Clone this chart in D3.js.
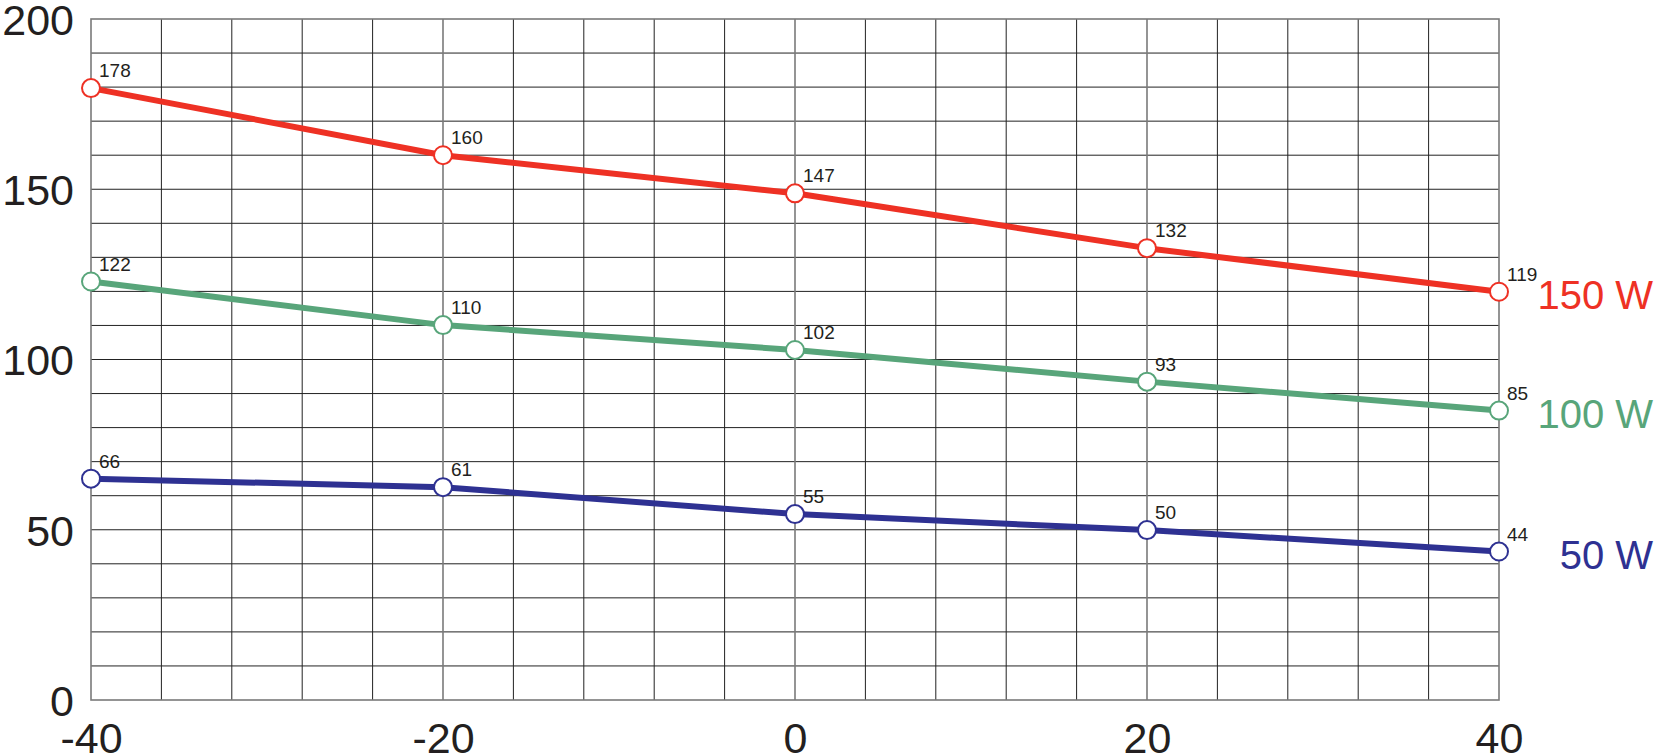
<!DOCTYPE html>
<html>
<head>
<meta charset="utf-8">
<script src="https://cdn.jsdelivr.net/npm/d3@7"></script>
<style>
  html, body { margin: 0; padding: 0; background: #fff; }
  svg { display: block; font-family: "Liberation Sans", Arial, sans-serif; }
</style>
</head>
<body>
<div class="chart"></div>
<script>
// data
const temps = [-40, -20, 0, 20, 40];
const xTicks = [-40, -20, 0, 20, 40];
const yTicks = [0, 50, 100, 150, 200];

const series150 = [179.7, 160, 148.8, 132.7, 119.9];
const series100 = [122.9, 110.1, 102.8, 93.5, 85.0];
const series50 = [65.0, 62.5, 54.6, 49.9, 43.6];

const labels150 = ["178", "160", "147", "132", "119"];
const labels100 = ["122", "110", "102", "93", "85"];
const labels50 = ["66", "61", "55", "50", "44"];

const seriesNames = ["150 W", "100 W", "50 W"];
const seriesColors = ["#ee3124", "#58a57a", "#2e3192"];

const series = [
    { name: seriesNames[0], values: series150, labels: labels150, color: seriesColors[0] },
    { name: seriesNames[1], values: series100, labels: labels100, color: seriesColors[1] },
    { name: seriesNames[2], values: series50, labels: labels50, color: seriesColors[2] }
];

const W = 1655, H = 755;
const plot = { left: 91, right: 1499, top: 19, bottom: 700 };

const svg = d3.select(".chart")
    .append("svg")
    .attr("width", W)
    .attr("height", H);

const x = d3.scaleLinear()
    .domain([-40, 40])
    .range([plot.left, plot.right]);

const y = d3.scaleLinear()
    .domain([0, 200])
    .range([plot.bottom, plot.top]);

// grid
const grid = svg.append("g");

grid.selectAll("line.h")
    .data(d3.range(10, 200, 10))
    .enter()
    .append("line")
    .attr("x1", plot.left)
    .attr("x2", plot.right)
    .attr("y1", d => y(d))
    .attr("y2", d => y(d))
    .attr("stroke", "#222")
    .attr("stroke-width", 1);

grid.selectAll("line.v")
    .data(d3.range(-36, 40, 4))
    .enter()
    .append("line")
    .attr("x1", d => x(d))
    .attr("x2", d => x(d))
    .attr("y1", plot.top)
    .attr("y2", plot.bottom)
    .attr("stroke", d => d % 20 === 0 ? "#7a7a7a" : "#222")
    .attr("stroke-width", d => d % 20 === 0 ? 1.6 : 1);

grid.append("rect")
    .attr("x", plot.left)
    .attr("y", plot.top)
    .attr("width", plot.right - plot.left)
    .attr("height", plot.bottom - plot.top)
    .attr("fill", "none")
    .attr("stroke", "#7a7a7a")
    .attr("stroke-width", 1.6);

// axes (labels only)
const yAxis = svg.append("g")
    .attr("transform", `translate(${plot.left},0)`)
    .call(d3.axisLeft(y).tickValues(yTicks).tickSize(0).tickPadding(17));

yAxis.select(".domain").remove();
yAxis.selectAll("text")
    .attr("font-size", 43)
    .attr("dy", "0.36em")
    .attr("fill", "#231f20")
    .attr("font-family", "Liberation Sans, Arial, sans-serif");

// plain hyphen for negatives, like the original
const xAxis = svg.append("g")
    .attr("transform", `translate(0,${plot.bottom})`)
    .call(d3.axisBottom(x).tickValues(xTicks).tickSize(0).tickPadding(0)
        .tickFormat(d => String(d)));

xAxis.select(".domain").remove();
xAxis.selectAll("text")
    .attr("font-size", 43)
    .attr("dy", 53)
    .attr("fill", "#231f20")
    .attr("font-family", "Liberation Sans, Arial, sans-serif");

// lines
const line = d3.line()
    .x((d, i) => x(temps[i]))
    .y(d => y(d));

series.forEach(s => {

    const g = svg.append("g");

    g.append("path")
        .datum(s.values)
        .attr("d", line)
        .attr("fill", "none")
        .attr("stroke", s.color)
        .attr("stroke-width", 6)
        .attr("stroke-linejoin", "round");

    g.selectAll("circle")
        .data(s.values)
        .enter()
        .append("circle")
        .attr("cx", (d, i) => x(temps[i]))
        .attr("cy", d => y(d))
        .attr("r", 9)
        .attr("fill", "#fff")
        .attr("stroke", s.color)
        .attr("stroke-width", 2);

    g.selectAll("text.val")
        .data(s.values)
        .enter()
        .append("text")
        .attr("x", (d, i) => x(temps[i]) + 8)
        .attr("y", d => y(d) - 11)
        .attr("font-size", 19)
        .attr("fill", "#231f20")
        .text((d, i) => s.labels[i]);

    const last = s.values[s.values.length - 1];

    g.append("text")
        .attr("x", 1653)
        .attr("y", y(last) + 17)
        .attr("text-anchor", "end")
        .attr("font-size", 40)
        .attr("fill", s.color)
        .text(s.name);
});
</script>
</body>
</html>
